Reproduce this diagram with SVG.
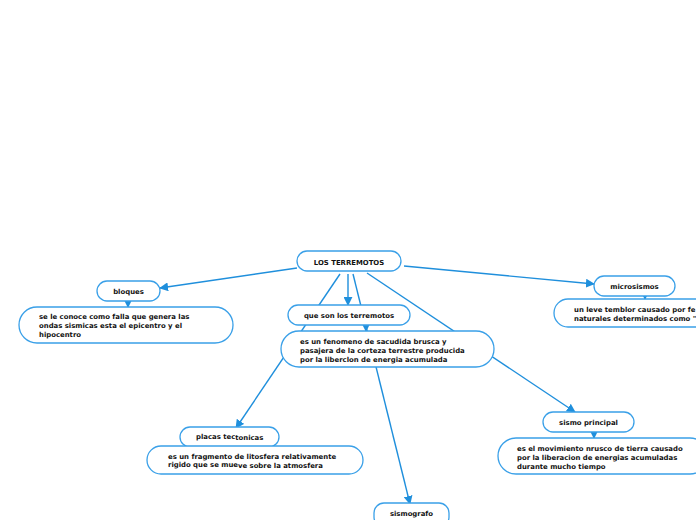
<svg xmlns="http://www.w3.org/2000/svg" width="696" height="520" viewBox="0 0 696 520">
<defs>
<marker id="ah" viewBox="0 0 10 10" refX="9" refY="5" markerWidth="9" markerHeight="9" markerUnits="userSpaceOnUse" orient="auto">
<path d="M0,0 L10,5 L0,10 z" fill="#1f8fdc"/>
</marker>
<style>
.n{fill:#fff;stroke:#3aa0e8;stroke-width:1.3}
.t{font-family:"DejaVu Sans",Verdana,sans-serif;font-weight:bold;font-size:6.9px;fill:#111}
.c{fill:none;stroke:#1f8fdc;stroke-width:1.4;marker-end:url(#ah)}
</style>
</defs>
<rect width="696" height="520" fill="#fff"/>
<g id="connectors">
<line class="c" x1="297" y1="268" x2="160" y2="288"/>
<line class="c" x1="404" y1="266" x2="594" y2="284"/>
<line class="c" x1="348" y1="274" x2="348" y2="305"/>
<line class="c" x1="340" y1="274" x2="236" y2="428"/>
<line class="c" x1="353" y1="274" x2="410" y2="504"/>
<line class="c" x1="367" y1="273" x2="575" y2="412"/>
<line class="c" x1="128" y1="301" x2="128" y2="307"/>
<line class="c" x1="366" y1="325" x2="366" y2="331"/>
<line class="c" x1="645" y1="296" x2="645" y2="299"/>
<line class="c" x1="594" y1="432" x2="594" y2="438"/>
</g>
<g id="root">
<rect class="n" x="297" y="251" width="104" height="20" rx="10"/>
<text class="t" x="349" y="264.5" text-anchor="middle">LOS TERREMOTOS</text>
</g>
<g id="bloques">
<rect class="n" x="97" y="281" width="63" height="20" rx="10"/>
<text class="t" x="128.5" y="294" text-anchor="middle">bloques</text>
</g>
<g id="bloques-desc">
<rect class="n" x="19" y="307" width="214" height="36" rx="18"/>
<text class="t" x="39" y="318.5">se le conoce como falla que genera las</text>
<text class="t" x="39" y="327.5">ondas sismicas esta el epicentro y el</text>
<text class="t" x="39" y="336.5">hipocentro</text>
</g>
<g id="queson">
<rect class="n" x="288" y="305" width="122" height="20" rx="10"/>
<text class="t" x="349" y="318" text-anchor="middle">que son los terremotos</text>
</g>
<g id="queson-desc">
<rect class="n" x="281" y="331" width="213" height="36" rx="18"/>
<text class="t" x="300" y="343.5">es un fenomeno de sacudida brusca y</text>
<text class="t" x="300" y="352.5">pasajera de la corteza terrestre producida</text>
<text class="t" x="300" y="361.5">por la liberclon de energia acumulada</text>
</g>
<g id="microsismos">
<rect class="n" x="594" y="276" width="81" height="20" rx="10"/>
<text class="t" x="634.5" y="289" text-anchor="middle">microsismos</text>
</g>
<g id="microsismos-desc">
<rect class="n" x="554" y="299" width="160" height="28" rx="14"/>
<text class="t" x="574" y="312">un leve temblor causado por fe</text>
<text class="t" x="574" y="320.5">naturales determinados como "</text>
</g>
<g id="placas">
<rect class="n" x="180" y="427" width="99" height="20" rx="10"/>
<text class="t" x="196" y="439">placas tec<tspan y="440">tonicas</tspan></text>
</g>
<g id="placas-desc">
<rect class="n" x="147" y="446" width="216" height="28" rx="14"/>
<text class="t" x="168" y="458.5">es un fragmento de litosfera relativamente</text>
<text class="t" x="168" y="467">rigido que se mue<tspan y="468">ve sobre la atmosfera</tspan></text>
</g>
<g id="sismo">
<rect class="n" x="543" y="412" width="91" height="20" rx="10"/>
<text class="t" x="588.5" y="425" text-anchor="middle">sismo principal</text>
</g>
<g id="sismo-desc">
<rect class="n" x="498" y="438" width="210" height="36" rx="18"/>
<text class="t" x="517" y="450.5">es el movimiento nrusco de tierra causado</text>
<text class="t" x="517" y="459.5">por la liberacion de energias acumuladas</text>
<text class="t" x="517" y="468.5">durante mucho tiempo</text>
</g>
<g id="sismografo">
<rect class="n" x="374" y="503" width="75" height="24" rx="10"/>
<text class="t" x="411.5" y="516" text-anchor="middle">sismografo</text>
</g>
</svg>
